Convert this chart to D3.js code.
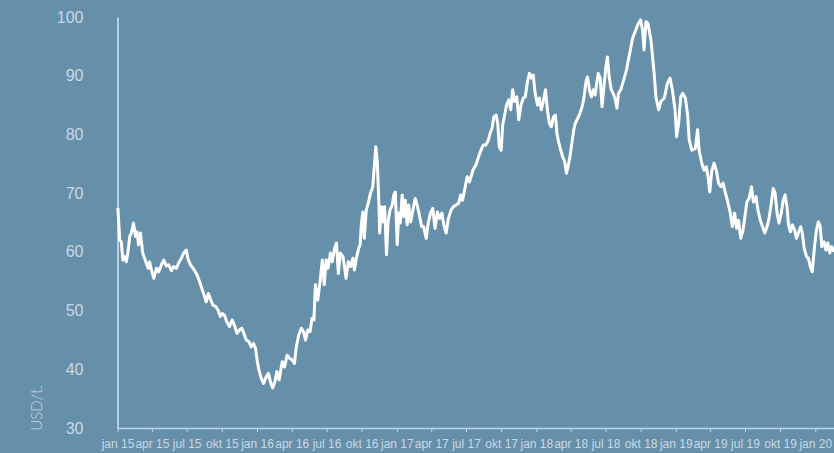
<!DOCTYPE html>
<html>
<head>
<meta charset="utf-8">
<script src="https://cdn.jsdelivr.net/npm/d3@7"></script>
<style>
  html, body { margin: 0; padding: 0; background: #668faa; }
  svg { display: block; font-family: Lato, "Open Sans", sans-serif; font-weight: 300; }
</style>
</head>
<body>
<div id="chart"></div>
<script>
// price in USD/t.
var dates = [
  "2015-01-02","2015-01-07","2015-01-11","2015-01-15","2015-01-20","2015-01-24","2015-01-28","2015-02-02","2015-02-06","2015-02-12",
  "2015-02-17","2015-02-21","2015-02-25","2015-03-02","2015-03-05","2015-03-08","2015-03-16","2015-03-22","2015-03-26","2015-03-31",
  "2015-04-06","2015-04-13","2015-04-19","2015-04-26","2015-05-02","2015-05-09","2015-05-15","2015-05-22","2015-05-28","2015-06-04",
  "2015-06-10","2015-06-17","2015-06-23","2015-06-30","2015-07-04","2015-07-11","2015-07-20","2015-07-28","2015-08-04","2015-08-11",
  "2015-08-17","2015-08-21","2015-08-27","2015-09-02","2015-09-08","2015-09-15","2015-09-21","2015-09-27","2015-10-02","2015-10-08",
  "2015-10-14","2015-10-21","2015-10-28","2015-11-03","2015-11-10","2015-11-16","2015-11-22","2015-11-28","2015-12-04","2015-12-11",
  "2015-12-17","2015-12-23","2015-12-28","2016-01-02","2016-01-06","2016-01-12","2016-01-18","2016-01-25","2016-01-31","2016-02-05",
  "2016-02-11","2016-02-17","2016-02-22","2016-02-28","2016-03-07","2016-03-13","2016-03-20","2016-03-26","2016-04-02","2016-04-08",
  "2016-04-13","2016-04-19","2016-04-26","2016-05-02","2016-05-07","2016-05-13","2016-05-19","2016-05-24","2016-05-29","2016-06-02",
  "2016-06-08","2016-06-14","2016-06-20","2016-06-25","2016-06-30","2016-07-05","2016-07-11","2016-07-16","2016-07-22","2016-07-27",
  "2016-08-01","2016-08-06","2016-08-13","2016-08-17","2016-08-21","2016-08-27","2016-09-02","2016-09-08","2016-09-12","2016-09-17",
  "2016-09-23","2016-09-27","2016-09-30","2016-10-04","2016-10-08","2016-10-13","2016-10-19","2016-10-24","2016-10-30","2016-11-03",
  "2016-11-07","2016-11-11","2016-11-15","2016-11-17","2016-11-22","2016-11-26","2016-11-30","2016-12-05","2016-12-09","2016-12-14",
  "2016-12-20","2016-12-24","2016-12-28","2017-01-02","2017-01-06","2017-01-10","2017-01-15","2017-01-19","2017-01-23","2017-01-28",
  "2017-02-01","2017-02-06","2017-02-12","2017-02-18","2017-02-23","2017-03-01","2017-03-07","2017-03-12","2017-03-19","2017-03-24",
  "2017-03-30","2017-04-05","2017-04-11","2017-04-17","2017-04-23","2017-04-29","2017-05-04","2017-05-10","2017-05-16","2017-05-23",
  "2017-05-29","2017-06-05","2017-06-12","2017-06-17","2017-06-22","2017-06-29","2017-07-04","2017-07-10","2017-07-19","2017-07-27",
  "2017-08-03","2017-08-09","2017-08-15","2017-08-22","2017-08-29","2017-09-02","2017-09-07","2017-09-12","2017-09-18","2017-09-22",
  "2017-09-26","2017-10-01","2017-10-05","2017-10-11","2017-10-15","2017-10-21","2017-10-26","2017-10-31","2017-11-05","2017-11-11",
  "2017-11-16","2017-11-22","2017-11-28","2017-12-03","2017-12-09","2017-12-14","2017-12-19","2017-12-24","2017-12-29","2018-01-04",
  "2018-01-09","2018-01-14","2018-01-19","2018-01-25","2018-01-30","2018-02-04","2018-02-09","2018-02-15","2018-02-20","2018-02-24",
  "2018-02-28","2018-03-06","2018-03-11","2018-03-16","2018-03-21","2018-03-25","2018-03-30","2018-04-04","2018-04-09","2018-04-13",
  "2018-04-19","2018-04-25","2018-05-01","2018-05-06","2018-05-11","2018-05-15","2018-05-20","2018-05-25","2018-05-30","2018-06-04",
  "2018-06-08","2018-06-12","2018-06-17","2018-06-22","2018-06-27","2018-07-02","2018-07-06","2018-07-11","2018-07-16","2018-07-21",
  "2018-07-27","2018-07-31","2018-08-04","2018-08-10","2018-08-15","2018-08-20","2018-08-25","2018-08-30","2018-09-05","2018-09-10",
  "2018-09-15","2018-09-20","2018-09-25","2018-10-01","2018-10-06","2018-10-10","2018-10-15","2018-10-20","2018-10-28","2018-11-05",
  "2018-11-10","2018-11-17","2018-11-23","2018-12-02","2018-12-10","2018-12-17","2018-12-23","2018-12-30","2019-01-03","2019-01-08",
  "2019-01-14","2019-01-19","2019-01-26","2019-02-01","2019-02-05","2019-02-12","2019-02-21","2019-02-27","2019-03-03","2019-03-10",
  "2019-03-16","2019-03-22","2019-03-27","2019-03-31","2019-04-05","2019-04-11","2019-04-17","2019-04-23","2019-04-29","2019-05-05",
  "2019-05-10","2019-05-16","2019-05-23","2019-05-29","2019-06-04","2019-06-09","2019-06-14","2019-06-20","2019-06-26","2019-07-02",
  "2019-07-06","2019-07-12","2019-07-18","2019-07-23","2019-07-30","2019-08-04","2019-08-10","2019-08-16","2019-08-22","2019-08-28",
  "2019-09-02","2019-09-08","2019-09-13","2019-09-18","2019-09-23","2019-09-28","2019-10-04","2019-10-09","2019-10-14","2019-10-19",
  "2019-10-23","2019-10-28","2019-11-02","2019-11-08","2019-11-13","2019-11-18","2019-11-24","2019-11-28","2019-12-03","2019-12-09",
  "2019-12-14","2019-12-19","2019-12-24","2019-12-30","2020-01-04","2020-01-09","2020-01-14","2020-01-18","2020-01-24","2020-01-29",
  "2020-02-03","2020-02-08","2020-02-13","2020-02-19"
];
var prices = [
  67.5,62.0,61.7,58.6,59.2,58.3,59.8,62.6,63.2,64.9,
  62.6,63.4,61.2,63.2,61.5,59.8,58.3,57.2,58.3,56.9,
  55.5,57.2,56.6,57.8,58.6,57.6,57.8,56.8,57.5,57.2,
  58.1,58.9,59.8,60.3,58.9,57.8,57.0,56.1,54.9,53.5,
  52.4,51.5,52.9,51.8,50.9,50.7,50.1,49.0,49.5,49.2,
  48.1,47.3,48.4,47.5,46.1,46.7,47.0,46.1,45.0,44.7,
  43.8,44.4,43.6,41.3,39.9,38.5,37.6,38.7,39.3,37.9,
  36.8,37.9,39.6,38.2,41.3,40.4,42.4,41.9,41.6,41.0,
  43.8,45.8,47.0,46.4,45.0,46.7,46.4,48.7,48.4,54.4,
  51.8,54.9,58.6,54.4,58.6,57.2,59.8,58.3,60.6,61.5,
  56.3,59.8,59.2,57.5,55.5,58.3,57.5,58.9,56.9,58.9,
  60.6,61.2,64.6,66.8,62.3,67.1,68.5,70.0,71.1,74.5,
  77.9,75.1,68.3,63.2,67.7,65.1,67.7,59.5,65.1,67.1,
  68.0,69.7,70.2,61.2,66.6,64.9,69.7,66.0,68.8,64.6,
  68.0,65.1,67.1,69.1,68.0,66.3,64.3,64.3,62.3,64.9,
  66.6,67.4,64.0,66.8,65.7,66.6,64.6,63.2,65.7,67.1,
  67.7,68.0,68.3,69.7,68.8,71.1,72.8,71.9,73.9,74.8,
  76.2,77.3,78.2,78.2,79.1,80.2,81.0,83.0,83.3,81.9,
  77.9,77.3,81.6,83.6,85.0,85.9,84.2,87.6,85.6,86.4,
  82.5,85.0,86.2,86.4,89.0,90.4,89.6,90.1,87.0,85.0,
  86.2,84.2,85.6,87.6,84.2,81.9,81.3,83.0,83.3,80.2,
  78.8,77.3,76.2,75.4,73.4,74.5,76.2,78.5,80.8,81.9,
  82.7,83.6,84.7,86.4,89.0,89.8,87.6,86.4,87.6,86.7,
  88.7,90.4,89.6,84.7,88.1,91.5,93.2,89.6,87.6,87.0,
  85.9,84.5,87.0,87.6,88.7,89.8,91.0,92.7,94.7,96.4,
  97.2,98.1,98.9,99.5,97.8,94.4,99.2,98.9,96.1,90.6,
  86.4,84.2,85.6,86.2,88.7,89.6,87.6,84.2,79.6,81.6,
  86.4,87.0,86.2,83.3,79.1,77.3,77.6,80.8,77.3,75.1,
  73.9,74.5,72.5,70.2,73.7,75.1,73.9,71.7,71.1,71.7,
  70.2,68.8,66.8,64.3,66.6,64.0,65.4,62.3,63.7,66.6,
  68.5,69.1,71.1,68.5,69.4,67.1,65.4,64.3,63.2,64.3,
  65.7,68.3,70.8,70.0,66.6,64.9,66.6,68.8,69.7,67.7,
  64.6,63.4,64.6,63.7,62.3,63.2,64.3,63.2,60.6,59.2,
  58.9,57.5,56.6,60.9,63.7,65.1,64.3,60.9,61.7,60.3,
  61.5,59.8,60.9,60.0
];
var yTicks = [30, 40, 50, 60, 70, 80, 90, 100];
var xTickLabels = [
  "jan 15","apr 15","jul 15","okt 15",
  "jan 16","apr 16","jul 16","okt 16",
  "jan 17","apr 17","jul 17","okt 17",
  "jan 18","apr 18","jul 18","okt 18",
  "jan 19","apr 19","jul 19","okt 19",
  "jan 20"
];
var yLabel = "USD/t.";

var W = 834, H = 453;
var margin = {top: 17, right: 0, bottom: 25, left: 117.5};

var parse = d3.timeParse("%Y-%m-%d");
var data = dates.map(function(d, i){ return {date: parse(d), value: prices[i]}; });

var svg = d3.select("#chart").append("svg")
  .attr("width", W)
  .attr("height", H);

var x = d3.scaleTime()
  .domain([d3.timeYear.floor(data[0].date), data[data.length - 1].date])
  .range([margin.left, W - margin.right]);

var y = d3.scaleLinear()
  .domain([30, 100])
  .range([H - margin.bottom, margin.top]);

var tickDates = d3.timeMonth.every(3).range(x.domain()[0], d3.timeDay.offset(x.domain()[1], 1));

// x axis along the bottom, ticks pointing down
var xAxis = svg.append("g")
  .attr("transform", "translate(0," + y(30) + ")")
  .call(d3.axisBottom(x)
    .tickValues(tickDates)
    .tickFormat(function(d, i){ return xTickLabels[i]; })
    .tickSize(4)
    .tickSizeOuter(0)
    .tickPadding(7));
xAxis.select(".domain").attr("stroke", "#bcd7ec").attr("stroke-width", 1.5);
xAxis.selectAll(".tick line").attr("stroke", "#bcd7ec");
xAxis.selectAll(".tick text")
  .attr("fill", "#c9d9e5")
  .style("font-size", "12px");

// y axis is only a line, labels are set apart to the left
var yAxis = svg.append("g")
  .attr("transform", "translate(" + margin.left + ",0)")
  .call(d3.axisLeft(y)
    .tickValues(yTicks)
    .tickSize(0)
    .tickPadding(34));
yAxis.select(".domain").attr("stroke", "#d6e4ee").attr("stroke-width", 1.5);
yAxis.selectAll(".tick text")
  .attr("fill", "#c9d9e5")
  .style("font-size", "16px");

svg.append("text")
  .attr("transform", "translate(" + 42 + "," + 408 + ") rotate(-90)")
  .attr("text-anchor", "middle")
  .attr("fill", "#c9d9e5")
  .style("font-size", "15px")
  .text(yLabel);

var line = d3.line()
  .x(function(d){ return x(d.date); })
  .y(function(d){ return y(d.value); });

svg.append("path")
  .datum(data)
  .attr("fill", "none")
  .attr("stroke", "#ffffff")
  .attr("stroke-width", 3)
  .attr("stroke-linejoin", "round")
  .attr("d", line);
</script>
</body>
</html>
